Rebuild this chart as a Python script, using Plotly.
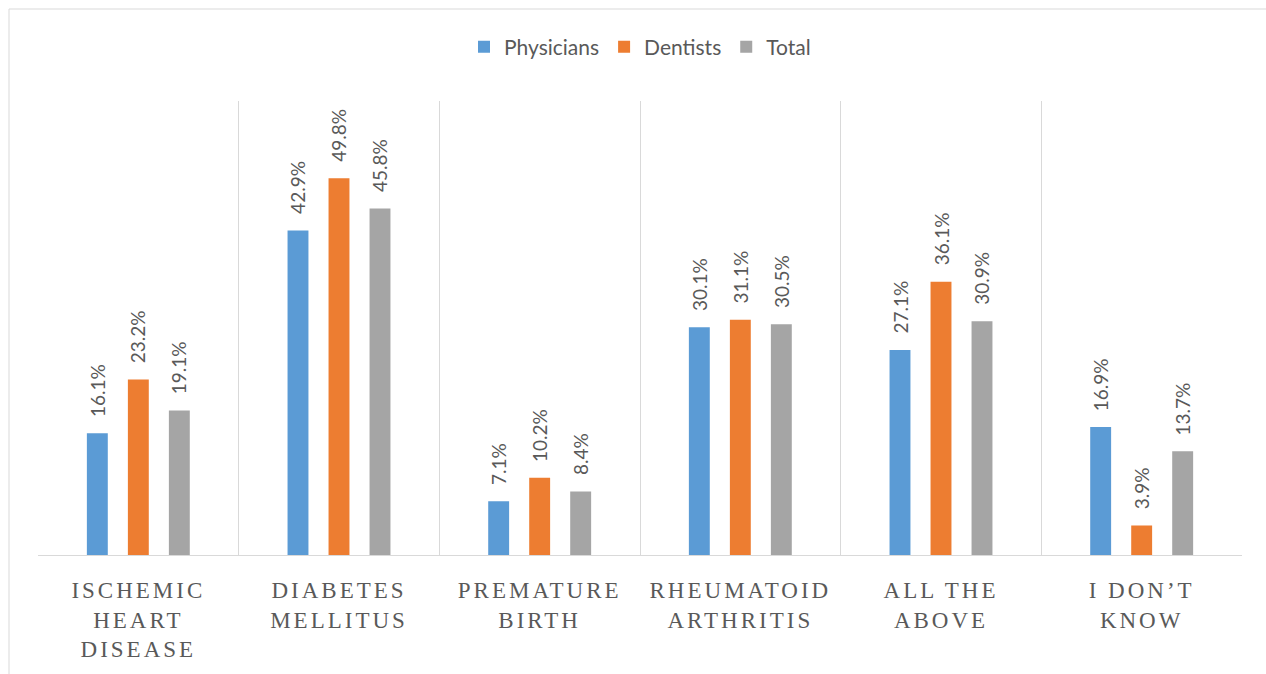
import plotly.graph_objects as go

categories = ["ISCHEMIC<br>HEART<br>DISEASE", "DIABETES<br>MELLITUS", "PREMATURE<br>BIRTH",
              "RHEUMATOID<br>ARTHRITIS", "ALL THE<br>ABOVE", "I DON\u2019T<br>KNOW"]
physicians = [16.1, 42.9, 7.1, 30.1, 27.1, 16.9]
dentists = [23.2, 49.8, 10.2, 31.1, 36.1, 3.9]
total = [19.1, 45.8, 8.4, 30.5, 30.9, 13.7]

series = [("Physicians", physicians, "#5B9BD5"),
          ("Dentists", dentists, "#ED7D31"),
          ("Total", total, "#A5A5A5")]

W, H = 1266, 674
L, R, T, B = 38, 24, 101, 119
pw, ph = W - L - R, H - T - B
slot_px = 41  # horizontal distance between bars within a group

fig = go.Figure()
annotations = []
for si, (name, vals, col) in enumerate(series):
    fig.add_trace(go.Bar(
        x=categories, y=vals, name=name, marker=dict(color=col, line=dict(width=0)),
    ))
    for cat, v in zip(categories, vals):
        annotations.append(dict(
            x=cat, y=v, xref="x", yref="y", text=f"{v:.1f}%", showarrow=False,
            textangle=-90, xanchor="center", yanchor="bottom",
            xshift=(si - 1) * slot_px, yshift=14,
            font=dict(family="Lato", size=19, color="#595959"),
        ))

def px_x(p):
    return (p - L) / pw

def px_y(p):
    return (H - B - p) / ph

fig.update_layout(
    width=W, height=H,
    margin=dict(l=L, r=R, t=T, b=B),
    paper_bgcolor="white", plot_bgcolor="white",
    barmode="group", bargap=0.387, bargroupgap=0.49,
    showlegend=True,
    legend=dict(orientation="h", x=0.5, xanchor="center", y=px_y(47), yanchor="middle",
                font=dict(family="Lato", size=21, color="#595959"),
                itemwidth=30, traceorder="normal"),
    xaxis=dict(type="category", tickson="boundaries", showgrid=True, gridcolor="#D9D9D9",
               gridwidth=1, showline=True, linecolor="#D9D9D9", linewidth=1,
               ticks="", ticklabelstandoff=14,
               tickfont=dict(family="Liberation Serif", size=23, color="#595959"),
               zeroline=False),
    yaxis=dict(range=[0, 60], visible=False, showgrid=False, zeroline=False),
    annotations=annotations,
    shapes=[dict(type="rect", xref="paper", yref="paper",
                 x0=px_x(9), x1=px_x(1300), y0=px_y(700), y1=px_y(9),
                 line=dict(color="#D9D9D9", width=1), fillcolor="rgba(0,0,0,0)", layer="below")],
)

post = """
var s = document.createElement('style');
s.innerHTML = '.xtick text { letter-spacing: 3px; }';
document.head.appendChild(s);
"""
fig.write_html("out.html", post_script=post)
